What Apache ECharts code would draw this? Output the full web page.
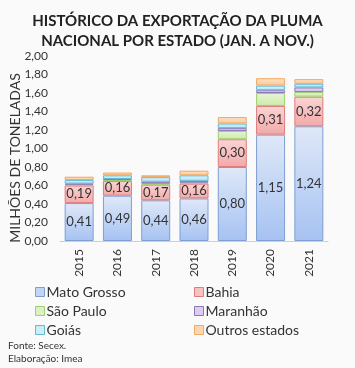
<!DOCTYPE html>
<html>
<head>
<meta charset="utf-8">
<script src="https://cdn.jsdelivr.net/npm/echarts@6/dist/echarts.min.js"></script>
<style>
html,body{margin:0;padding:0;background:#fafafa;}
#c{width:355px;height:368px;}
</style>
</head>
<body>
<div id="c"></div>
<script>
const categories = ['2015','2016','2017','2018','2019','2020','2021'];
const matoGrosso = [0.41, 0.49, 0.44, 0.46, 0.80, 1.15, 1.24];
const bahia      = [0.19, 0.16, 0.17, 0.16, 0.30, 0.31, 0.32];
const saoPaulo   = [0.01, 0.01, 0.01, 0.01, 0.09, 0.14, 0.05];
const maranhao   = [0.01, 0.01, 0.02, 0.02, 0.03, 0.03, 0.05];
const goias      = [0.04, 0.04, 0.05, 0.06, 0.05, 0.05, 0.04];
const outros     = [0.035, 0.03, 0.02, 0.05, 0.07, 0.08, 0.05];
const yTicks = [0,0.2,0.4,0.6,0.8,1.0,1.2,1.4,1.6,1.8,2.0];

const fmt = v => v.toFixed(2).replace('.', ',');
const grad = (a, b) => new echarts.graphic.LinearGradient(0,0,0,1,[{offset:0,color:a},{offset:1,color:b}]);

const styles = {
  'Mato Grosso':   {top:'#dfe8f8', bot:'#a6c2f2', border:'#7e9fd3', flat:'#c3d5f4'},
  'Bahia':         {top:'#fbd4d4', bot:'#f2a9a9', border:'#e07c7c', flat:'#f6c2c2'},
  'São Paulo':     {top:'#e6f5d6', bot:'#cdeaa8', border:'#9fcf70', flat:'#dcf0c4'},
  'Maranhão':      {top:'#e4dbf3', bot:'#cbbbe8', border:'#8e78bb', flat:'#dacdf0'},
  'Goiás':         {top:'#dbf2f8', bot:'#b8e3f0', border:'#62b9d4', flat:'#cdeef6'},
  'Outros estados':{top:'#fde3c8', bot:'#f9c99a', border:'#f0a865', flat:'#fbd6b1'}
};
const seriesData = [
  ['Mato Grosso', matoGrosso, true],
  ['Bahia', bahia, true],
  ['São Paulo', saoPaulo, false],
  ['Maranhão', maranhao, false],
  ['Goiás', goias, false],
  ['Outros estados', outros, false]
];

const series = seriesData.map(([name, data, lbl]) => ({
  name, type:'bar', stack:'total', data, barWidth: 29,
  itemStyle:{color: grad(styles[name].top, styles[name].bot), borderColor: styles[name].border, borderWidth: 1},
  label:{show: lbl, position:'inside', formatter: p => fmt(p.value), color:'#333', fontSize:13, fontFamily:'Lato'},
  emphasis:{disabled:true}
}));

const legendItem = n => ({name:n, itemStyle:{color: styles[n].flat, borderColor: styles[n].border, borderWidth:1}});
const legendBase = {orient:'vertical', top:285, padding:0, itemWidth:9, itemHeight:9, itemGap:5, icon:'rect',
  textStyle:{fontSize:14, color:'#333', fontFamily:'Lato', padding:[0,0,0,-3]}};

const chart = echarts.init(document.getElementById('c'));
chart.setOption({
  backgroundColor:'#fafafa',
  animation:false,
  title:{
    text:'HISTÓRICO DA EXPORTAÇÃO DA PLUMA\nNACIONAL POR ESTADO (JAN. A NOV.)',
    left:'center', top:6,
    textStyle:{fontSize:15, fontWeight:'bold', color:'#222', fontFamily:'Lato', lineHeight:20}
  },
  grid:{left:60, right:27, top:56, bottom:127, containLabel:false},
  xAxis:{
    type:'category', data:categories,
    axisLine:{show:true, lineStyle:{color:'#d0d0d0'}},
    axisTick:{show:false},
    axisLabel:{rotate:90, color:'#333', fontSize:12, fontFamily:'Lato', margin:8}
  },
  yAxis:{
    type:'value', min:0, max:2, interval:0.2,
    axisLine:{show:false}, axisTick:{show:false}, splitLine:{show:false},
    axisLabel:{formatter: v => fmt(v), color:'#333', fontSize:12, fontFamily:'Lato', margin:12}
  },
  legend:[
    Object.assign({}, legendBase, {left:35, data:['Mato Grosso','São Paulo','Goiás'].map(legendItem)}),
    Object.assign({}, legendBase, {left:194, data:['Bahia','Maranhão','Outros estados'].map(legendItem)})
  ],
  graphic:[
    {type:'text', x:15, y:158, rotation:Math.PI/2,
     style:{text:'MILHÕES DE TONELADAS', fontSize:14, fill:'#333', fontFamily:'Lato', align:'center', verticalAlign:'middle'}},
    {type:'text', left:8, top:341, style:{text:'Fonte: Secex.', fontSize:10, fill:'#333', fontFamily:'Lato'}},
    {type:'text', left:8, top:354, style:{text:'Elaboração: Imea', fontSize:10, fill:'#333', fontFamily:'Lato'}}
  ],
  series
});
</script>
</body>
</html>
